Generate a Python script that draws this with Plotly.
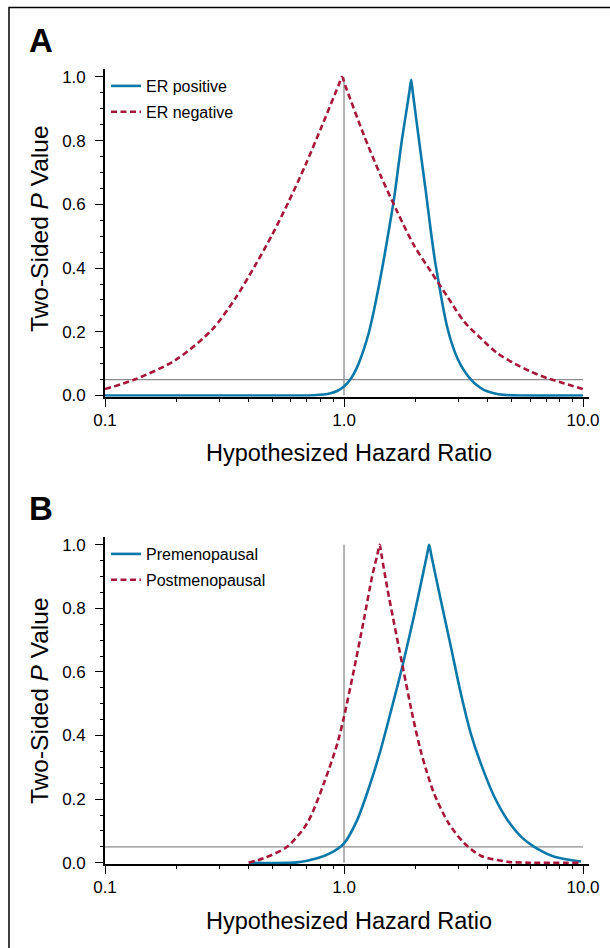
import plotly.graph_objects as go

# ---------------- data ----------------
# Panel A
a_pos_hr = [0.1, 0.6, 0.75, 0.82, 0.878, 0.94, 1.0, 1.064, 1.13, 1.21, 1.27, 1.33, 1.40, 1.47,
            1.545, 1.62, 1.685, 1.75, 1.83, 1.88, 1.91, 1.94, 2.0, 2.094, 2.2, 2.31, 2.40, 2.50,
            2.60, 2.71, 2.84, 2.98, 3.18, 3.39, 3.6, 3.86, 4.2, 4.67, 5.5, 10.0]
a_pos_p = [0.0, 0.0, 0.001, 0.003, 0.007, 0.015, 0.028, 0.051, 0.086, 0.145, 0.197, 0.262, 0.345,
           0.431, 0.525, 0.619, 0.715, 0.807, 0.90, 0.957, 0.991, 0.952, 0.875, 0.760, 0.64,
           0.514, 0.425, 0.347, 0.275, 0.211, 0.158, 0.117, 0.078, 0.051, 0.032, 0.017, 0.008,
           0.002, 0.0, 0.0]

a_neg_hr = [0.1, 0.134, 0.197, 0.280, 0.351, 0.426, 0.500, 0.587, 0.690, 0.811, 0.95, 0.981,
            1.02, 1.21, 1.42, 1.67, 1.96, 2.31, 2.71, 3.18, 3.73, 4.39, 5.15, 6.05, 7.11, 8.35,
            10.0]
a_neg_p = [0.020, 0.051, 0.111, 0.206, 0.305, 0.410, 0.504, 0.609, 0.724, 0.849, 0.975, 1.0,
           0.966, 0.818, 0.692, 0.577, 0.472, 0.389, 0.310, 0.232, 0.180, 0.132, 0.101, 0.075,
           0.054, 0.038, 0.020]

# Panel B
b_pre_hr = [0.4, 0.637, 0.772, 0.877, 1.0, 1.135, 1.29, 1.42, 1.62, 1.75, 1.96, 2.23, 2.27,
            2.32, 2.54, 2.80, 3.08, 3.39, 3.73, 4.25, 4.83, 5.50, 6.25, 7.59, 9.81]
b_pre_p = [0.0, 0.001, 0.014, 0.030, 0.061, 0.134, 0.250, 0.352, 0.515, 0.614, 0.774, 0.972, 1.0,
           0.966, 0.826, 0.679, 0.533, 0.407, 0.313, 0.208, 0.134, 0.082, 0.050, 0.019, 0.004]

b_post_hr = [0.399, 0.461, 0.578, 0.701, 0.824, 0.938, 1.0, 1.10, 1.21, 1.31, 1.38, 1.41, 1.44,
             1.52, 1.765, 1.94, 2.09, 2.2, 2.38, 2.74, 3.18, 3.73, 4.83, 6.0, 9.8]
b_post_p = [0.0, 0.014, 0.050, 0.124, 0.250, 0.375, 0.459, 0.606, 0.763, 0.899, 0.970, 1.0, 0.961,
            0.860, 0.612, 0.459, 0.354, 0.295, 0.218, 0.124, 0.062, 0.022, 0.003, 0.0, 0.0]

null_hr = 1.0
alpha = 0.05
x_ticks = [0.1, 1.0, 10.0]
x_tick_text = ["0.1", "1.0", "10.0"]
x_minor = [0.2, 0.3, 0.4, 0.5, 0.6, 0.7, 0.8, 0.9, 2, 3, 4, 5, 6, 7, 8, 9]
y_ticks = [0.0, 0.2, 0.4, 0.6, 0.8, 1.0]
y_minor = [0.05, 0.1, 0.15, 0.25, 0.3, 0.35, 0.45, 0.5, 0.55, 0.65, 0.7, 0.75, 0.85, 0.9, 0.95]

panels = [
    dict(letter="A", names=["ER positive", "ER negative"],
         series=[(a_pos_hr, a_pos_p), (a_neg_hr, a_neg_p)]),
    dict(letter="B", names=["Premenopausal", "Postmenopausal"],
         series=[(b_pre_hr, b_pre_p), (b_post_hr, b_post_p)]),
]

# ---------------- layout geometry (pixels) ----------------
W, H = 610, 948
BLUE = "#0B78AA"
RED = "#A8173A"
GRAY = "#8C8C8C"
FONT = "Liberation Sans, Arial, Helvetica, sans-serif"

def fx(px):
    return px / W

def fy(py):
    return 1 - py / H

x_left, x_right = 105, 589
x_range = [-1, 1.025]
geo = [dict(p0=395.5, scale=318.5, letter_y=41, legend_top=69, ytitle_y=229),
       dict(p0=862.7, scale=318.0, letter_y=508, legend_top=537, ytitle_y=701)]
y_lo, y_hi = -0.004, 1.025

fig = go.Figure()
annotations = []
for i, (pan, g) in enumerate(zip(panels, geo)):
    n = "" if i == 0 else str(i + 1)
    xa, ya = "x" + n, "y" + n
    leg = "legend" + n
    # reference lines (drawn first, below the curves)
    fig.add_trace(go.Scatter(x=[null_hr, null_hr], y=[0, 1], mode="lines", xaxis=xa, yaxis=ya,
                             line=dict(color=GRAY, width=1.3), showlegend=False, hoverinfo="skip"))
    fig.add_trace(go.Scatter(x=[x_ticks[0], x_ticks[-1]], y=[alpha, alpha], mode="lines",
                             xaxis=xa, yaxis=ya, line=dict(color=GRAY, width=1.3),
                             showlegend=False, hoverinfo="skip"))
    for k, ((xs, ys), name) in enumerate(zip(pan["series"], pan["names"])):
        fig.add_trace(go.Scatter(
            x=xs, y=ys, mode="lines", name=name, xaxis=xa, yaxis=ya,
            legend=leg, legendgroup=f"{i}{k}",
            line=dict(color=BLUE if k == 0 else RED, width=2.6, shape="spline", smoothing=0.8,
                      dash="solid" if k == 0 else "6px,3.5px"),
        ))

    y_bot = g["p0"] - y_lo * g["scale"]
    y_top = g["p0"] - y_hi * g["scale"]
    xdom = [fx(x_left), fx(x_right)]
    ydom = [fy(y_bot), fy(y_top)]
    common = dict(showgrid=False, zeroline=False, automargin=False, fixedrange=True,
                  tickcolor="black")
    mx = "xaxis" + str(3 + 2 * i)
    my = "yaxis" + str(4 + 2 * i)
    mxname = "x" + str(3 + 2 * i)
    myname = "y" + str(4 + 2 * i)
    fig.update_layout(**{
        "xaxis" + n: dict(
            type="log", range=x_range, domain=xdom, anchor=ya,
            showline=True, linecolor="black", linewidth=1.6,
            tickmode="array", tickvals=x_ticks, ticktext=x_tick_text,
            ticks="outside", ticklen=8, tickwidth=1.4,
            tickfont=dict(family=FONT, size=17, color="black"),
            ticklabelstandoff=-1, layer="below traces", **common,
        ),
        "yaxis" + n: dict(
            range=[y_lo, y_hi], domain=ydom, anchor=xa,
            showline=True, linecolor="black", linewidth=1.6,
            tickmode="array", tickvals=y_ticks, ticktext=[f"{v:.1f}" for v in y_ticks],
            ticks="outside", ticklen=8, tickwidth=1.4,
            tickfont=dict(family=FONT, size=17, color="black"),
            ticklabelstandoff=6, layer="below traces", **common,
        ),
        # overlay axes carrying the short minor ticks
        mx: dict(
            type="log", range=x_range, domain=xdom, anchor=ya, overlaying=xa, side="bottom",
            showline=False, tickmode="array", tickvals=x_minor, showticklabels=False,
            ticks="outside", ticklen=4, tickwidth=1.2, **common,
        ),
        my: dict(
            range=[y_lo, y_hi], domain=ydom, anchor=xa, overlaying=ya, side="left",
            showline=False, tickmode="array", tickvals=y_minor, showticklabels=False,
            ticks="outside", ticklen=4, tickwidth=1.2, **common,
        ),
        leg: dict(
            x=fx(106), y=fy(g["legend_top"]), xanchor="left", yanchor="top",
            bgcolor="rgba(0,0,0,0)", borderwidth=0, traceorder="grouped",
            tracegroupgap=2, itemwidth=30,
            font=dict(family=FONT, size=16, color="black"),
        ),
    })
    # invisible helper traces so the overlay axes are drawn
    fig.add_trace(go.Scatter(x=[x_ticks[0]], y=[y_ticks[0]], xaxis=mxname, yaxis=myname,
                             mode="markers", marker=dict(opacity=0), showlegend=False,
                             hoverinfo="skip"))
    annotations += [
        dict(text="<b>" + pan["letter"] + "</b>", x=fx(27), y=fy(g["letter_y"]),
             xref="paper", yref="paper", xanchor="left", yanchor="middle", showarrow=False,
             font=dict(family=FONT, size=33, color="black")),
        dict(text="Hypothesized Hazard Ratio", x=fx(349), y=fy(g["p0"] + 58),
             xref="paper", yref="paper", xanchor="center", yanchor="middle", showarrow=False,
             font=dict(family=FONT, size=23.5, color="black")),
        dict(text="Two-Sided <i>P</i> Value", x=fx(39), y=fy(g["ytitle_y"]),
             xref="paper", yref="paper", xanchor="center", yanchor="middle", showarrow=False,
             textangle=-90, font=dict(family=FONT, size=24.5, color="black")),
    ]

fig.update_layout(
    width=W, height=H, margin=dict(l=0, r=0, t=0, b=0, pad=0),
    paper_bgcolor="white", plot_bgcolor="white",
    annotations=annotations,
    shapes=[dict(type="rect", xref="paper", yref="paper",
                 x0=fx(9), y0=fy(960), x1=fx(640), y1=fy(7.5),
                 line=dict(color="black", width=1.5), fillcolor="rgba(0,0,0,0)")],
)

fig.write_html("out.html", config={"displayModeBar": False},
               post_script="document.body.style.margin='0';document.body.style.overflow='hidden';")
